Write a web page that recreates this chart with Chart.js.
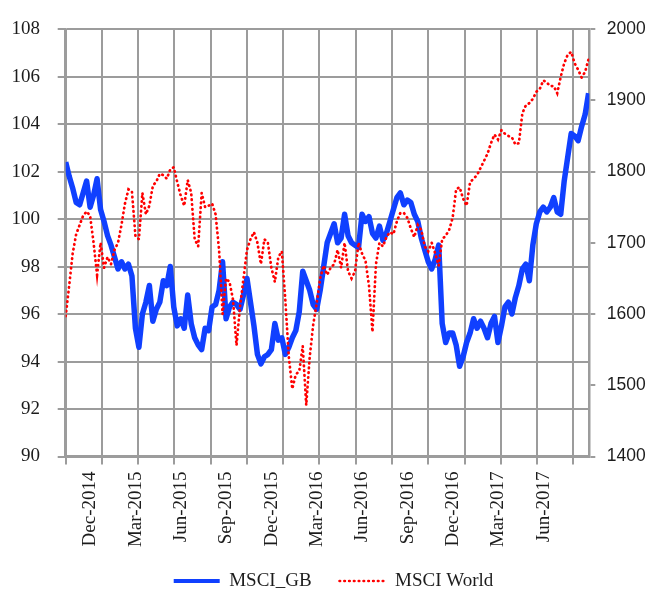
<!DOCTYPE html>
<html>
<head>
<meta charset="utf-8">
<title>MSCI_GB vs MSCI World</title>
<script src="https://cdn.jsdelivr.net/npm/chart.js@4.4.1/dist/chart.umd.min.js"></script>
<style>
  html, body { margin: 0; padding: 0; background: #ffffff; }
  canvas { display: block; }
</style>
</head>
<body>
<canvas id="chart" width="651" height="594"></canvas>
<script>
// Quarter labels shown under the x axis
const quarterLabels = ['Dec-2014', 'Mar-2015', 'Jun-2015', 'Sep-2015', 'Dec-2015', 'Mar-2016',
  'Jun-2016', 'Sep-2016', 'Dec-2016', 'Mar-2017', 'Jun-2017'];

// MSCI_GB index level (left axis), one value per week
const msciGB = [
  102.4, 101.8, 101.3, 100.7, 100.6, 101.1, 101.6, 100.5, 101.0, 101.7,
  100.4, 99.9, 99.3, 98.9, 98.4, 97.9, 98.2, 97.9, 98.1, 97.6,
  95.4, 94.6, 96.0, 96.5, 97.2, 95.7, 96.2, 96.5, 97.4, 97.2,
  98.0, 96.3, 95.5, 95.8, 95.4, 96.8, 95.6, 95.0, 94.7, 94.5,
  95.4, 95.3, 96.3, 96.4, 97.0, 98.2, 95.8, 96.3, 96.5, 96.4,
  96.2, 96.8, 97.5, 96.5, 95.5, 94.3, 93.9, 94.2, 94.3, 94.5,
  95.6, 94.9, 95.0, 94.3, 94.6, 95.0, 95.3, 96.1, 97.8, 97.4,
  97.0, 96.4, 96.2, 97.0, 98.0, 99.0, 99.4, 99.8, 99.0, 99.2,
  100.2, 99.3, 99.0, 98.9, 98.8, 100.2, 99.9, 100.1, 99.4, 99.2,
  99.7, 99.1, 99.4, 99.9, 100.4, 100.9, 101.1, 100.6, 100.8, 100.7,
  100.2, 99.9, 99.2, 98.7, 98.2, 97.9, 98.3, 98.9, 95.6, 94.8,
  95.2, 95.2, 94.7, 93.8, 94.2, 94.8, 95.2, 95.8, 95.4, 95.7,
  95.4, 95.0, 95.6, 95.9, 94.8, 95.5, 96.3, 96.5, 96.0, 96.7,
  97.2, 97.9, 98.1, 97.4, 98.9, 99.8, 100.3, 100.5, 100.3, 100.5,
  100.9, 100.3, 100.2, 101.6, 102.6, 103.6, 103.5, 103.3, 103.9, 104.4,
  105.3
];

// MSCI World index level (right axis), one value per week
const msciWorld = [
  1597, 1640, 1685, 1712, 1725, 1738, 1744, 1738, 1700, 1655,
  1700, 1665, 1680, 1670, 1690, 1700, 1725, 1755, 1775, 1772,
  1710, 1705, 1770, 1740, 1752, 1780, 1786, 1797, 1795, 1790,
  1803, 1806, 1785, 1766, 1752, 1788, 1770, 1705, 1695, 1770,
  1750, 1752, 1755, 1740, 1690, 1600, 1650, 1645, 1620, 1556,
  1610, 1650, 1690, 1705, 1715, 1700, 1670, 1705, 1700, 1665,
  1645, 1680, 1688, 1620, 1540, 1495, 1515, 1520, 1555, 1472,
  1540, 1585, 1615, 1650, 1668, 1655, 1665, 1670, 1690, 1665,
  1700, 1660, 1650, 1660, 1700, 1685, 1675, 1640, 1575, 1670,
  1700, 1695, 1708, 1715, 1712, 1730, 1742, 1742, 1735, 1720,
  1708, 1725, 1718, 1695, 1688, 1700, 1685, 1668, 1705, 1710,
  1718, 1735, 1775, 1778, 1762, 1752, 1785, 1790, 1795, 1805,
  1815, 1825, 1840, 1852, 1845, 1858, 1853, 1850, 1848, 1838,
  1840, 1882, 1893, 1896, 1902, 1912, 1916, 1928, 1925, 1920,
  1920, 1910, 1933, 1952, 1964, 1968, 1952, 1943, 1932, 1940,
  1958
];

// The x axis counts trading days; one sample every 5 trading days
const daysPerSample = 5;
const lastDay = 751;
const gridEveryDays = 52;
const labelEveryDays = 65;
const firstLabelDay = 35.5;

const GRID = '#9c9c9c';
const TEXT = '#1c1c1c';
const SERIF = "'Liberation Serif', 'Times New Roman', serif";
const SANS = "'Liberation Sans', Arial, sans-serif";

const toPoints = (values) => values.map((v, i) => ({ x: i * daysPerSample, y: v }));

// Legend sits slightly right of the canvas centre and a little higher than its default slot
const legendPlacement = {
  id: 'legendPlacement',
  afterLayout(chart) {
    const lg = chart.legend;
    if (!lg) return;
    lg.left += 8; lg.right += 8;
    lg.top -= 6; lg.bottom -= 6;
  }
};

new Chart(document.getElementById('chart'), {
  type: 'line',
  data: {
    datasets: [
      {
        label: 'MSCI_GB',
        data: toPoints(msciGB),
        yAxisID: 'y',
        borderColor: 'rgb(16,64,255)',
        backgroundColor: 'rgb(16,64,255)',
        borderWidth: 5.5,
        borderJoinStyle: 'round',
        pointRadius: 0,
        tension: 0,
        order: 1
      },
      {
        label: 'MSCI World',
        data: toPoints(msciWorld),
        yAxisID: 'y2',
        borderColor: '#ff0000',
        backgroundColor: '#ff0000',
        borderWidth: 2.7,
        borderDash: [0.5, 4.3],
        borderCapStyle: 'round',
        pointRadius: 0,
        tension: 0,
        order: 0
      }
    ]
  },
  plugins: [legendPlacement],
  options: {
    responsive: false,
    animation: false,
    devicePixelRatio: 1,
    layout: { padding: { left: 0, right: 0, top: 24.5, bottom: -12.5 } },
    plugins: {
      tooltip: { enabled: false },
      legend: {
        position: 'bottom',
        labels: {
          usePointStyle: true,
          pointStyle: 'line',
          pointStyleWidth: 46,
          padding: 28,
          color: TEXT,
          font: { family: SERIF, size: 19 },
          sort: (a, b) => a.datasetIndex - b.datasetIndex,
          generateLabels: (chart) => {
            const items = Chart.defaults.plugins.legend.labels.generateLabels(chart);
            items.forEach((item) => {
              const ds = chart.data.datasets[item.datasetIndex];
              item.lineWidth = item.datasetIndex === 0 ? 4 : ds.borderWidth;
              item.lineDash = ds.borderDash || [];
              item.lineCap = ds.borderCapStyle || 'butt';
              item.strokeStyle = ds.borderColor;
              item.fillStyle = ds.borderColor;
              item.pointStyle = 'line';
            });
            return items;
          }
        }
      }
    },
    scales: {
      x: {
        type: 'linear',
        position: 'bottom',
        min: 0,
        max: lastDay,
        afterBuildTicks: (scale) => {
          const ticks = [];
          for (let d = 0; d <= lastDay; d += gridEveryDays) ticks.push({ value: d });
          quarterLabels.forEach((name, k) => {
            ticks.push({ value: firstLabelDay + k * labelEveryDays, name });
          });
          ticks.sort((a, b) => a.value - b.value);
          scale.ticks = ticks;
        },
        afterFit: (scale) => { scale.height = 93; },
        grid: {
          color: (ctx) => (ctx.tick && ctx.tick.name ? 'rgba(0,0,0,0)' : GRID),
          lineWidth: 2,
          drawTicks: true,
          tickLength: 8
        },
        border: { display: true, color: GRID, width: 2.5 },
        ticks: {
          autoSkip: false,
          minRotation: 90,
          maxRotation: 90,
          padding: 7,
          color: TEXT,
          font: { family: SERIF, size: 19 },
          callback: (value, index, ticks) => ticks[index].name || ''
        }
      },
      y: {
        position: 'left',
        min: 90,
        max: 108,
        afterFit: (scale) => { scale.width = 65.7; },
        grid: { color: GRID, lineWidth: 2, tickLength: 8 },
        border: { display: true, color: GRID, width: 2.5 },
        ticks: {
          stepSize: 2,
          padding: 17.7,
          color: TEXT,
          font: { family: SERIF, size: 19 },
          callback: (value) => String(value)
        }
      },
      y2: {
        position: 'right',
        min: 1400,
        max: 2000,
        afterFit: (scale) => { scale.width = 61.7; },
        grid: { drawOnChartArea: false, color: GRID, lineWidth: 2, tickLength: 6 },
        border: { display: true, color: GRID, width: 2.5 },
        ticks: {
          stepSize: 100,
          padding: 11.4,
          color: TEXT,
          font: { family: SANS, size: 17.5 },
          callback: (value) => String(value)
        }
      }
    }
  }
});
</script>
</body>
</html>
